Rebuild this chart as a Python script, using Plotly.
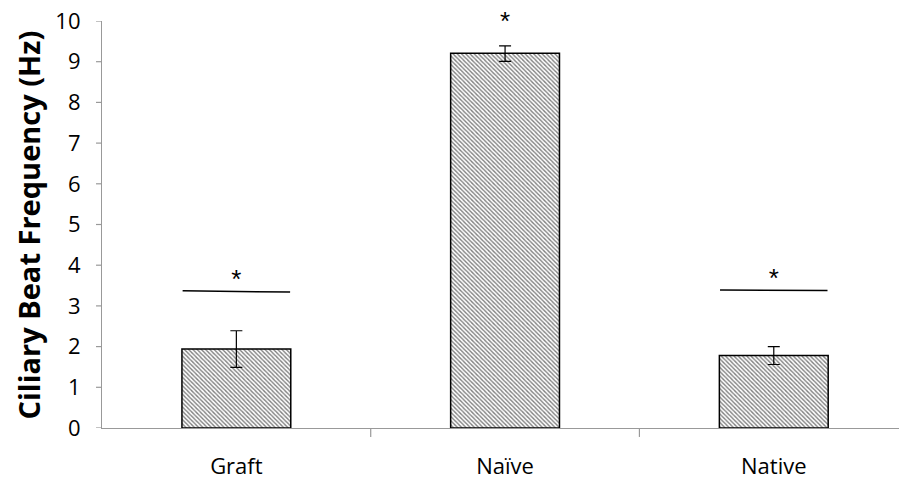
import plotly.graph_objects as go

categories = ["Graft", "Naïve", "Native"]
cbf_mean = [1.94, 9.21, 1.78]
err_plus = [0.45, 0.18, 0.22]
err_minus = [0.45, 0.20, 0.22]
sig_line_left = [3.37, 3.39]
sig_line_right = [3.34, 3.38]
sig_line_cat = [0, 2]
star_y = [3.6, 9.93, 3.63]
y_ticks = list(range(0, 11))
y_title = "Ciliary Beat Frequency (Hz)"

fig = go.Figure()
fig.add_trace(go.Bar(
    x=list(range(len(categories))), y=cbf_mean, width=0.405,
    marker=dict(color="white", line=dict(color="black", width=1.5),
                pattern=dict(shape="\\", fgcolor="black", bgcolor="white", size=3, solidity=0.45)),
    error_y=dict(type="data", array=err_plus, arrayminus=err_minus, color="black", thickness=1.2, width=6),
    showlegend=False,
))

for c, yl, yr in zip(sig_line_cat, sig_line_left, sig_line_right):
    fig.add_shape(type="line", xref="x", yref="y", x0=c - 0.2, x1=c + 0.2, y0=yl, y1=yr,
                  line=dict(color="black", width=1.5))

fig.add_trace(go.Scatter(
    x=list(range(len(categories))), y=star_y, mode="text", text=["*"] * len(categories),
    textfont=dict(size=26, color="black", family="Liberation Sans"),
    cliponaxis=False, showlegend=False, hoverinfo="skip",
))

fig.update_layout(
    width=899, height=480,
    margin=dict(l=102, r=0, t=21, b=52),
    plot_bgcolor="white", paper_bgcolor="white",
    font=dict(family="Open Sans", color="black"),
)
fig.add_annotation(
    text="<b>" + y_title + "</b>", xref="paper", yref="paper", x=-0.0916, y=0.5,
    xanchor="center", yanchor="middle", textangle=-90, showarrow=False,
    font=dict(size=29, family="Open Sans", color="black"),
)
fig.update_xaxes(
    type="linear", range=[-0.5, 2.466], tickvals=list(range(len(categories))), ticktext=categories,
    showline=True, linecolor="#999999", linewidth=1.2, ticks="", showgrid=False, zeroline=False,
    tickfont=dict(size=22, family="Open Sans"), ticklabelstandoff=18, automargin=False,
)
# boundary tick marks on the category axis
for b in [0.5, 1.5]:
    fig.add_shape(type="line", xref="x", yref="paper", x0=b, x1=b, y0=0, y1=-0.022,
                  line=dict(color="#999999", width=1.2))
# visible short tick marks on the value axis (the axis' own ticks are invisible spacers)
for t in y_ticks:
    fig.add_shape(type="line", xref="paper", yref="y", x0=-0.0075, x1=0, y0=t, y1=t,
                  line=dict(color="#999999", width=1.2))
fig.update_yaxes(
    range=[0, 10], tickvals=y_ticks, showline=True, linecolor="#999999", linewidth=1.2,
    ticks="outside", ticklen=16, tickcolor="rgba(255,255,255,0)", showgrid=False, zeroline=False,
    tickfont=dict(size=22, family="Open Sans"), automargin=False,
)
fig.write_html("out.html")
